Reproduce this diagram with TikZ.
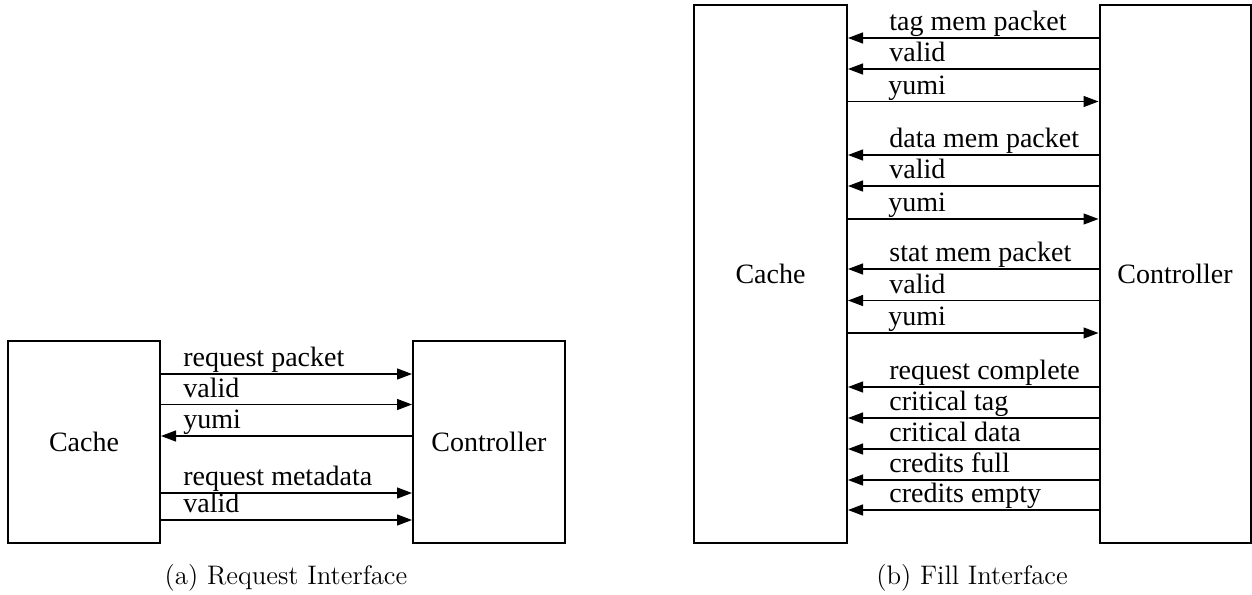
\documentclass[tikz,border=0pt]{standalone}
\usepackage{fontspec}
\newfontfamily\sigfont{Liberation Serif}
\usetikzlibrary{arrows.meta}
\begin{document}
\begin{tikzpicture}[x=0.5pt,y=-0.5pt,
  txt/.style={font=\sigfont\fontsize{14}{16}\selectfont},
  block/.style={draw, line width=1pt, inner sep=0pt, txt},
  sig/.style={line width=0.65pt, -{Triangle[length=7.5pt,width=5.5pt]}},
  lbl/.style={anchor=base west, inner sep=0pt, txt},
  subcaption/.style={anchor=base, inner sep=0pt, font=\fontsize{13.4}{15}\selectfont}]
\useasboundingbox (0,0) rectangle (1252,594);

% ---------- (a) request interface ----------
\node[block, minimum width=76pt, minimum height=101pt] (cacheA) at (84,442) {Cache};
\node[block, minimum width=76pt, minimum height=101pt] (ctrlA) at (489,442) {Controller};

\draw[sig] (cacheA.east |- 0,374) -- (ctrlA.west |- 0,374);
\node[lbl] (a1) at (183,366.5) {request packet};
\draw[sig] (cacheA.east |- 0,404.5) -- (ctrlA.west |- 0,404.5);
\node[lbl] (a2) at (183,397) {valid};
\draw[sig] (ctrlA.west |- 0,436) -- (cacheA.east |- 0,436);
\node[lbl] (a3) at (183,428.5) {yumi};
\draw[sig] (cacheA.east |- 0,493) -- (ctrlA.west |- 0,493);
\node[lbl] (a4) at (183,485.5) {request metadata};
\draw[sig] (cacheA.east |- 0,520) -- (ctrlA.west |- 0,520);
\node[lbl] (a5) at (183,512.5) {valid};

\node[subcaption] (capA) at (286,584) {(a) Request Interface};

% ---------- (b) fill interface ----------
\node[block, minimum width=76.5pt, minimum height=269pt] (cacheB) at (770.5,274) {Cache};
\node[block, minimum width=75.5pt, minimum height=269pt] (ctrlB) at (1175,274) {Controller};

% tag memory
\draw[sig] (ctrlB.west |- 0,38) -- (cacheB.east |- 0,38);
\node[lbl] (b1) at (889,30.5) {tag mem packet};
\draw[sig] (ctrlB.west |- 0,69) -- (cacheB.east |- 0,69);
\node[lbl] (b2) at (889,61.5) {valid};
\draw[sig] (cacheB.east |- 0,101.5) -- (ctrlB.west |- 0,101.5);
\node[lbl] (b3) at (888,94) {yumi};

% data memory
\draw[sig] (ctrlB.west |- 0,155) -- (cacheB.east |- 0,155);
\node[lbl] (b4) at (889,147.5) {data mem packet};
\draw[sig] (ctrlB.west |- 0,186) -- (cacheB.east |- 0,186);
\node[lbl] (b5) at (889,178.5) {valid};
\draw[sig] (cacheB.east |- 0,219) -- (ctrlB.west |- 0,219);
\node[lbl] (b6) at (888,211.5) {yumi};

% stat memory
\draw[sig] (ctrlB.west |- 0,269) -- (cacheB.east |- 0,269);
\node[lbl] (b7) at (889,261.5) {stat mem packet};
\draw[sig] (ctrlB.west |- 0,300.5) -- (cacheB.east |- 0,300.5);
\node[lbl] (b8) at (889,293) {valid};
\draw[sig] (cacheB.east |- 0,333) -- (ctrlB.west |- 0,333);
\node[lbl] (b9) at (888,325.5) {yumi};

% status signals
\draw[sig] (ctrlB.west |- 0,387) -- (cacheB.east |- 0,387);
\node[lbl] (b10) at (889,379.5) {request complete};
\draw[sig] (ctrlB.west |- 0,418) -- (cacheB.east |- 0,418);
\node[lbl] (b11) at (889,410.5) {critical tag};
\draw[sig] (ctrlB.west |- 0,449) -- (cacheB.east |- 0,449);
\node[lbl] (b12) at (889,441.5) {critical data};
\draw[sig] (ctrlB.west |- 0,480) -- (cacheB.east |- 0,480);
\node[lbl] (b13) at (889,472.5) {credits full};
\draw[sig] (ctrlB.west |- 0,510) -- (cacheB.east |- 0,510);
\node[lbl] (b14) at (889,502.5) {credits empty};

\node[subcaption] (capB) at (972,584) {(b) Fill Interface};
\end{tikzpicture}
\end{document}
